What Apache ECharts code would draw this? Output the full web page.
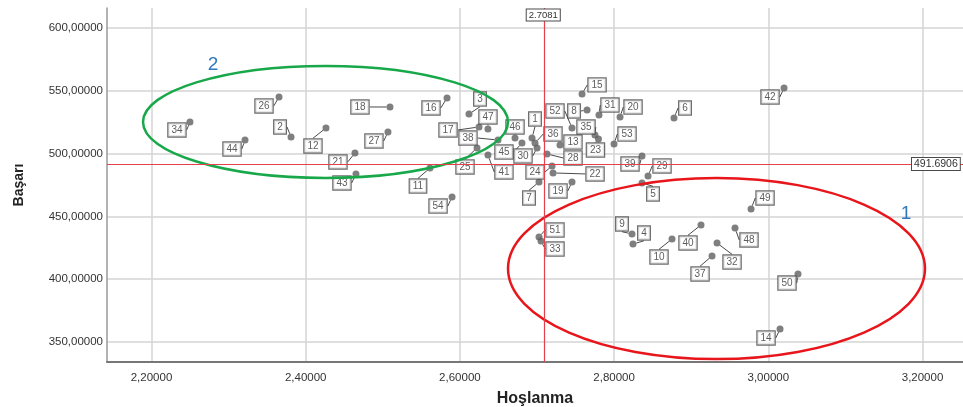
<!DOCTYPE html>
<html>
<head>
<meta charset="utf-8">
<title>Başarı / Hoşlanma</title>
<script src="https://cdn.jsdelivr.net/npm/echarts@6/dist/echarts.min.js"></script>
<style>
  html, body { margin: 0; padding: 0; background: #fff; }
  #chart { width: 963px; height: 407px; }
</style>
</head>
<body>
<div id="chart"></div>
<script>
// case numbers
const caseIds = [
  1, 2, 3, 4, 5, 6, 7, 8, 9, 10, 11, 12, 13, 14, 15, 16, 17, 18,
  19, 20, 21, 22, 23, 24, 25, 26, 27, 28, 29, 30, 31, 32, 33, 34, 35, 36,
  37, 38, 39, 40, 41, 42, 43, 44, 45, 46, 47, 48, 49, 50, 51, 52, 53, 54
]
// Hoşlanma (x)
const hoslanma = [
  2.6935, 2.3810, 2.6118, 2.8245, 2.8362, 2.8777, 2.7026, 2.7649, 2.8232,
  2.8751, 2.5612, 2.4263, 2.7298, 3.0152, 2.7584, 2.5833, 2.6248, 2.5093,
  2.7454, 2.8077, 2.4639, 2.7208, 2.7797, 2.7195, 2.6222, 2.3654, 2.5067,
  2.7130, 2.8440, 2.7000, 2.7804, 2.9335, 2.7052, 2.2499, 2.7752, 2.6974,
  2.9270, 2.6494, 2.8362, 2.9127, 2.6364, 3.0204, 2.4652, 2.3213, 2.6805,
  2.6715, 2.6364, 2.9568, 2.9776, 3.0385, 2.7026, 2.7454, 2.7999, 2.5898
]
// Başarı (y)
const basari = [
  512.4, 513.2, 531.5, 428.0, 476.6, 528.3, 477.4, 534.7, 436.0,
  432.0, 488.5, 520.4, 506.8, 360.4, 547.5, 544.3, 521.2, 537.1,
  477.4, 529.1, 500.5, 484.6, 511.6, 490.1, 504.5, 545.1, 517.2,
  499.7, 482.2, 504.5, 530.7, 428.8, 430.4, 525.2, 514.8, 508.4,
  418.5, 510.8, 498.1, 443.2, 498.9, 552.2, 483.8, 510.8, 508.4,
  512.4, 519.6, 440.8, 455.9, 404.1, 433.6, 520.4, 507.6, 465.4
]
const xTicks = [2.2, 2.4, 2.6, 2.8, 3.0, 3.2]
const yTicks = [350, 400, 450, 500, 550, 600]
const meanX = 2.7081
const meanY = 491.6906

// hand drawn groups (data units): cx, cy, rx, ry
const groupNames = ['1', '2']
const groupRings = [
  [2.9328, 408.5, 0.2704, 72.05],
  [2.4257, 525.2, 0.2367, 44.6]
]
const groupTags = [
  [3.1786, 451.9],
  [2.2798, 570.5]
]
const ringColors = ['#e8151b', '#18a84a']

// label box shift from its point, px (layout only)
const labelShift = [
  [3, -19], [-11, -10], [11, -15], [11, -11], [11, 11], [11, -10], [-10, 16], [-13, 1], [-10, -10],
  [-13, 18], [-12, 18], [-13, 18], [13, -3], [-14, 9], [15, -9], [-16, 10], [-31, 3], [-30, 0],
  [-14, 9], [13, -10], [-17, 9], [42, 1], [-3, 11], [-17, 6], [-12, 19], [-15, 9], [-14, 9],
  [26, 4], [14, -10], [-14, 8], [11, -10], [15, 19], [14, 8], [-13, 8], [-9, -8], [18, -9],
  [-12, 18], [-30, -2], [-12, 8], [-13, 18], [16, 17], [-14, 9], [-14, 9], [-13, 9], [-18, 9],
  [0, -11], [0, -12], [14, 12], [14, -11], [-11, 9], [16, -7], [-17, -17], [13, -10], [-14, 9]
]

const fmt = v => v.toFixed(5).replace('.', ',')
const points = hoslanma.map((x, i) => [x, basari[i], caseIds[i]])

const chart = echarts.init(document.getElementById('chart'))

const boxText = {
  fontFamily: 'Liberation Sans, Arial, sans-serif',
  fontSize: 10,
  color: '#333',
  backgroundColor: '#fff',
  borderColor: '#4a4a4a',
  borderWidth: 1.2,
  padding: [2, 3, 1, 3]
}

chart.setOption({
  animation: false,
  textStyle: { fontFamily: 'Liberation Sans, Arial, sans-serif' },
  grid: { left: 107, right: 0, top: 8, bottom: 45, containLabel: false, outerBoundsMode: 'none' },
  xAxis: {
    type: 'value',
    min: 2.1423,
    max: 3.2525,
    name: 'Hoşlanma',
    nameLocation: 'middle',
    nameGap: 29,
    nameTextStyle: { fontSize: 16, fontWeight: 'bold', color: '#222' },
    axisLine: { show: true, onZero: false, lineStyle: { color: '#777', width: 2 } },
    axisTick: { show: false, customValues: xTicks },
    axisLabel: { customValues: xTicks, formatter: fmt, fontSize: 11.5, color: '#333', margin: 10 },
    splitLine: { show: true, lineStyle: { color: '#d4d4d4', width: 1.5 } }
  },
  yAxis: {
    type: 'value',
    min: 334.1,
    max: 615.9,
    name: 'Başarı',
    nameLocation: 'middle',
    nameGap: 81,
    nameTextStyle: { fontSize: 14, fontWeight: 'bold', color: '#222' },
    axisLine: { show: true, onZero: false, lineStyle: { color: '#999', width: 1.5 } },
    axisTick: { show: false, customValues: yTicks },
    axisLabel: { customValues: yTicks, formatter: fmt, fontSize: 11.5, color: '#333', margin: 4 },
    splitLine: { show: true, lineStyle: { color: '#d4d4d4', width: 1.5 } }
  },
  series: [
    {
      type: 'scatter',
      data: points,
      symbolSize: 7,
      itemStyle: { color: '#5f5f5f' },
      label: Object.assign({
        show: true,
        position: 'inside',
        formatter: p => String(p.value[2])
      }, boxText),
      labelLine: { show: true, lineStyle: { color: '#4a4a4a', width: 1 } },
      labelLayout: p => {
        const s = labelShift[p.dataIndex]
        return { dx: s[0], dy: s[1] }
      },
      markLine: {
        silent: true,
        symbol: 'none',
        label: { show: false },
        lineStyle: { color: '#e5404c', width: 1.2, type: 'solid', opacity: 1 },
        data: [{ xAxis: meanX }, { yAxis: meanY }]
      },
      z: 3
    },
    {
      // group rings
      type: 'custom',
      silent: true,
      clip: false,
      data: groupRings.map((g, i) => [g[0], g[1], g[2], g[3], i]),
      renderItem: (params, api) => {
        const c = api.coord([api.value(0), api.value(1)])
        const s = api.size([api.value(2), api.value(3)])
        return {
          type: 'ellipse',
          shape: { cx: c[0], cy: c[1], rx: s[0], ry: s[1] },
          style: { fill: 'none', stroke: ringColors[api.value(4)], lineWidth: 2.5 }
        }
      },
      z: 4
    },
    {
      // group numbers
      type: 'custom',
      silent: true,
      data: groupTags.map((t, i) => [t[0], t[1], i]),
      renderItem: (params, api) => {
        const c = api.coord([api.value(0), api.value(1)])
        return {
          type: 'text',
          x: c[0], y: c[1],
          style: {
            text: groupNames[api.value(2)],
            fill: '#2f78bd',
            fontSize: 19,
            fontFamily: 'Liberation Sans, Arial, sans-serif',
            align: 'center',
            verticalAlign: 'middle'
          }
        }
      },
      z: 4
    },
    {
      // mean labels
      type: 'custom',
      silent: true,
      clip: false,
      data: [[meanX, meanY]],
      renderItem: (params, api) => {
        const c = api.coord([api.value(0), api.value(1)])
        const cs = params.coordSys
        return {
          type: 'group',
          children: [
            {
              type: 'text', x: c[0], y: cs.y + 7,
              style: Object.assign({ text: String(meanX), fill: '#333', align: 'center', verticalAlign: 'middle' }, boxText, { fontSize: 9.5, padding: [1, 2, 0, 2], borderWidth: 1 })
            },
            {
              type: 'text', x: cs.x + cs.width - 51, y: c[1],
              style: Object.assign({ text: String(meanY), fill: '#333', align: 'left', verticalAlign: 'middle' }, boxText, { fontSize: 10.5, padding: [1, 2, 0, 2], borderWidth: 1 })
            }
          ]
        }
      },
      z: 5
    }
  ]
})
</script>
</body>
</html>
